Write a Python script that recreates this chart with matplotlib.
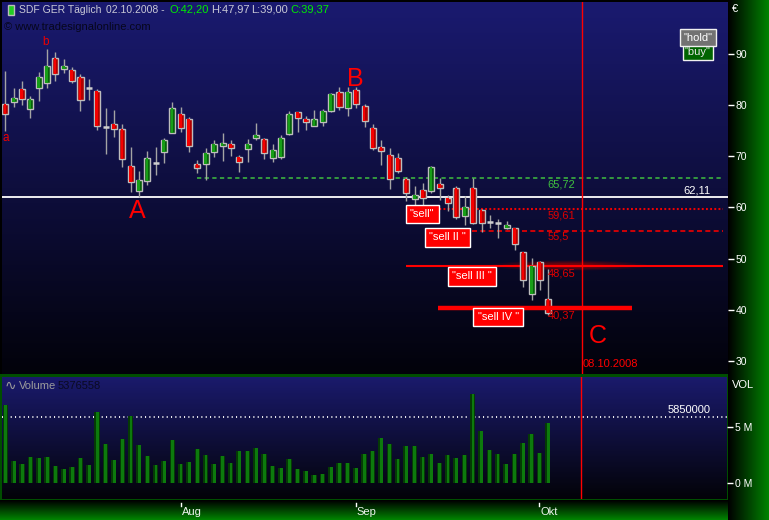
import numpy as np
import pandas as pd
import matplotlib
matplotlib.use("Agg")
import matplotlib.pyplot as plt
from matplotlib.patches import Rectangle, Ellipse
from matplotlib.transforms import blended_transform_factory

plt.rcParams['font.family'] = ['Liberation Sans', 'DejaVu Sans']

# ---- daily data: SDF (K+S) Xetra, 03.07.2008 - 02.10.2008 ----
dates = pd.bdate_range("2008-07-03", "2008-10-02")

opens = [80.20, 80.56, 83.10, 79.20, 83.30, 84.27, 89.16, 87.00, 86.80, 85.45,
         83.40, 82.70, 75.80, 76.26, 75.28, 68.11, 63.29, 65.24, 68.70, 70.91,
         74.62, 78.22, 77.24, 68.44, 68.44, 70.91, 72.08, 72.35, 69.80, 71.50,
         73.53, 73.33, 69.62, 69.93, 74.31, 78.61, 77.24, 75.99, 76.65, 78.92,
         82.50, 79.50, 82.96, 79.84, 75.48, 71.77, 70.26, 69.62, 65.51, 61.60,
         63.42, 63.29, 64.60, 61.80, 63.75, 58.40, 63.75, 59.51, 57.23, 56.92,
         55.94, 55.94, 51.25, 43.04, 49.29, 42.20]
highs = [86.70, 83.30, 84.70, 81.70, 86.50, 90.90, 90.30, 89.00, 87.50, 86.10,
         85.06, 83.10, 79.50, 79.06, 76.26, 71.83, 67.14, 71.04, 71.83, 73.64,
         80.62, 79.64, 77.60, 69.28, 71.57, 73.20, 74.50, 73.20, 70.26, 73.33,
         76.46, 73.64, 72.35, 74.17, 78.86, 78.70, 77.88, 79.06, 79.20, 82.44,
         83.50, 83.60, 83.60, 80.23, 76.32, 73.20, 71.57, 70.60, 66.02, 64.20,
         64.85, 68.11, 65.70, 62.44, 64.20, 62.25, 65.70, 59.70, 58.54, 57.70,
         57.36, 56.05, 51.36, 50.07, 49.55, 47.97]
lows = [75.00, 79.70, 80.00, 77.55, 80.90, 83.40, 84.70, 86.20, 84.30, 78.90,
        81.00, 75.15, 70.50, 73.84, 67.86, 63.10, 62.10, 64.40, 66.35, 68.76,
        74.50, 74.82, 70.91, 66.69, 65.38, 69.93, 69.15, 70.13, 67.00, 68.95,
        73.20, 69.42, 68.95, 69.48, 74.20, 74.82, 75.15, 75.90, 75.93, 78.60,
        79.06, 77.94, 79.50, 75.79, 71.24, 68.31, 63.56, 66.69, 61.33, 59.50,
        59.85, 62.78, 61.47, 59.38, 57.70, 56.58, 56.78, 55.27, 55.94, 53.98,
        55.74, 51.70, 44.40, 41.93, 43.90, 39.00]
closes = [78.20, 81.34, 81.15, 81.15, 85.45, 87.60, 86.03, 87.60, 84.66, 80.95,
          83.40, 76.00, 75.80, 75.28, 69.42, 65.04, 65.30, 69.62, 68.70, 73.13,
          79.39, 75.48, 72.08, 67.66, 70.71, 72.35, 72.55, 71.57, 68.84, 72.35,
          74.17, 70.60, 71.24, 73.53, 78.22, 77.43, 76.65, 77.24, 78.86, 82.12,
          79.70, 82.50, 80.17, 76.97, 71.69, 71.10, 65.51, 67.20, 62.78, 62.44,
          61.80, 67.98, 63.75, 60.82, 58.20, 60.04, 56.92, 56.92, 57.23, 56.92,
          56.58, 52.81, 45.83, 48.57, 45.83, 39.37]
# volume in millions of shares
volumes = [6.95, 1.94, 1.67, 2.30, 2.21, 2.30, 1.49, 1.22, 1.40, 2.21,
           1.58, 6.32, 3.46, 2.03, 3.91, 5.96, 3.37, 2.39, 1.58, 1.94,
           3.82, 1.67, 1.85, 3.01, 2.47, 1.67, 2.39, 1.76, 2.83, 2.83,
           3.10, 2.56, 1.49, 1.31, 2.12, 1.22, 1.04, 0.69, 0.78, 1.40,
           1.76, 1.76, 1.31, 2.56, 2.83, 4.00, 3.46, 2.12, 3.28, 3.28,
           2.30, 2.56, 1.76, 2.47, 2.21, 2.47, 7.93, 4.62, 2.92, 2.56,
           1.67, 2.56, 3.55, 4.35, 2.65, 5.376558]

month_names = ["Aug", "Sep", "Okt"]
month_starts = ["2008-08-01", "2008-09-01", "2008-10-01"]

price_ticks = [30, 40, 50, 60, 70, 80, 90]
volume_ticks = [0, 5]
volume_tick_labels = ["0 M", "5 M"]

support_level = 62.11
resistance_level = 65.72
sell_levels = [59.61, 55.5, 48.65, 40.37]
sell_labels = ['"sell"', '"sell II "', '"sell III "', '"sell IV "']
volume_mark = 5850000
target_date = "2008-10-08"

# ---- geometry ----
W, H = 769, 520
n = len(dates)
x = np.arange(n)
opens, highs, lows, closes = map(np.asarray, (opens, highs, lows, closes))
volumes = np.asarray(volumes)

x_left, x_right = -0.395, 86.5
target_idx = n - 1 + len(pd.bdate_range(dates[-1], target_date)) - 1
month_idx = [int(np.searchsorted(dates, pd.Timestamp(d))) for d in month_starts]

fig = plt.figure(figsize=(W / 100, H / 100), dpi=100)
fig.patch.set_facecolor("black")


def fx(px):
    return px / W


def fy(py):
    return 1 - py / H


def de(v):
    return f"{v:.2f}".replace(".", ",")


# ---- background: panel gradients, frame and axis strips ----
bg = np.zeros((H, W, 3))


def vgrad(n_rows, top, bottom):
    t = np.linspace(0, 1, n_rows)[:, None, None]
    return np.array(top)[None, None, :] * (1 - t) + np.array(bottom)[None, None, :] * t


bg[2:374, 2:728] = vgrad(372, (26, 26, 112), (2, 2, 10))
bg[374:500, 0:728] = (0, 78, 0)
bg[377:499, 2:727] = vgrad(122, (26, 26, 108), (3, 3, 8))
t_r = np.linspace(0, 1, W - 728)
bg[:, 728:, 0] = 0
bg[:, 728:, 2] = 0
bg[:, 728:, 1] = 130 * t_r[None, :]
t_b = np.linspace(0, 1, H - 500)
bg[500:, :728] = 0
bg[500:, :728, 1] = 130 * t_b[:, None]
bg_ax = fig.add_axes([0, 0, 1, 1])
bg_ax.imshow(np.clip(bg / 255, 0, 1), extent=[0, W, H, 0], aspect="auto",
             interpolation="nearest")
bg_ax.set_axis_off()
bg_ax.set_zorder(-5)

# ---- price panel ----
ax = fig.add_axes([fx(2), fy(374), (728 - 2) / W, (374 - 2) / H])
ax.set_facecolor("none")
ax.set_xlim(x_left, x_right)
ax.set_ylim(27.46, 100.16)
for s in ax.spines.values():
    s.set_visible(False)

is_doji = np.abs(closes - opens) < 0.01
is_up = closes > opens
body_w = 0.72

ax.vlines(x, lows, highs, color="#a4a4a4", lw=1.0, zorder=3)
bm = ~is_doji
base_col = np.where(is_up, "#07620a", "#b00000")
inner_col = np.where(is_up, "#179e17", "#f40000")
bottoms = np.minimum(opens, closes)
heights = np.abs(closes - opens)
ax.bar(x[bm], heights[bm], width=body_w, bottom=bottoms[bm], color=base_col[bm],
       edgecolor="#bdbdbd", linewidth=1.0, zorder=4)
ax.bar(x[bm] - 0.05, heights[bm], width=0.32, bottom=bottoms[bm],
       color=inner_col[bm], linewidth=0, zorder=5)
ax.hlines(opens[is_doji], x[is_doji] - body_w / 2, x[is_doji] + body_w / 2,
          color="#cfcfcf", lw=1.8, zorder=4)

# support / resistance levels
ax.axhline(support_level, color="white", lw=1.3, zorder=2)
ax.hlines(resistance_level, 22.9, 85.9, colors="#3fbf3f",
          linestyles=(0, (2.8, 2.2)), lw=1.1, zorder=2)
ax.hlines(sell_levels[0], 48.0, 85.9, colors="#f00000",
          linestyles=(0, (0.9, 1.1)), lw=1.5, zorder=2)
ax.hlines(sell_levels[1], 55.9, 85.9, colors="#f00000",
          linestyles=(0, (3, 2)), lw=1.2, zorder=2)
for k, a in zip(range(6), [0.10, 0.12, 0.14, 0.16, 0.18, 0.2]):
    w = 18.8 * (1 - k * 0.13)
    h = 2.0 * (1 - k * 0.12)
    ax.add_patch(Ellipse((67.5, sell_levels[2]), w, h, facecolor="#b00000",
                         edgecolor="none", alpha=a, zorder=2))
ax.hlines(sell_levels[2], 48.0, 85.9, colors="#ff0000", lw=1.5, zorder=3)
ax.hlines(sell_levels[3], 51.8, 75.0, colors="#ff0000", lw=3.2, zorder=6)

# level values
level_text = [(resistance_level, "#3fbf3f", -6),
              (sell_levels[0], "#e00000", -6),
              (sell_levels[1], "#e00000", -6),
              (sell_levels[2], "#e00000", -7.5),
              (sell_levels[3], "#e00000", -7.5)]
for lv, col, off in level_text:
    txt = f"{lv:g}".replace(".", ",")
    ax.annotate(txt, xy=(64.9, lv), xytext=(0, off), textcoords="offset pixels",
                ha="left", va="center", color=col, fontsize=8, zorder=7)
ax.annotate(de(support_level), xy=(84.35, support_level), xytext=(0, 6.5),
            textcoords="offset pixels", ha="right", va="center",
            color="white", fontsize=8, zorder=7)

# signal boxes
box_pos = [(49.9, 58.7), (52.9, 54.15), (55.9, 46.53), (59.0, 38.6)]
for (bx, by), lab in zip(box_pos, sell_labels):
    ax.text(bx, by, lab, ha="center", va="center", color="white", fontsize=8,
            zorder=8,
            bbox=dict(boxstyle="square,pad=0.38", fc="#ff0000", ec="white", lw=1.0))
ax.text(82.9, 90.35, '"buy"', ha="center", va="center", color="#e8e8e8",
        fontsize=8, zorder=8,
        bbox=dict(boxstyle="square,pad=0.22", fc="#006400", ec="#f0f0f0", lw=1.0))
ax.text(82.9, 93.2, '"hold"', ha="center", va="center", color="white",
        fontsize=8, zorder=9,
        bbox=dict(boxstyle="square,pad=0.3", fc="#727272", ec="#f0f0f0", lw=1.0))

# wave labels
ax.text(0.0, 73.6, "a", color="#ee0000", fontsize=8.5, ha="center", va="center")
ax.text(4.87, 92.35, "b", color="#ee0000", fontsize=8.5, ha="center", va="center")
ax.text(15.8, 59.3, "A", color="#ff0000", fontsize=18, ha="center", va="center")
ax.text(41.9, 85.15, "B", color="#ff0000", fontsize=18, ha="center", va="center")
ax.text(70.95, 34.9, "C", color="#ff0000", fontsize=18, ha="center", va="center")
ax.text(72.4, 29.5, pd.Timestamp(target_date).strftime("%d.%m.%Y"),
        color="#ff0000", fontsize=8, ha="center", va="center")
ax.axvline(target_idx, color="#ff0000", lw=1.0, zorder=2)

ax.set_xticks([])
ax.yaxis.tick_right()
ax.set_yticks(price_ticks)
ax.set_yticklabels([str(v) for v in price_ticks])
ax.tick_params(axis="y", colors="white", labelcolor="white", length=4, width=1,
               pad=1.5, labelsize=7.5, direction="out")
fig.text(fx(731.5), fy(9), "\u20ac", color="white", fontsize=8, ha="left",
         va="center")

# ---- volume panel ----
ax2 = fig.add_axes([fx(2), fy(499), (727 - 2) / W, (499 - 377) / H])
ax2.set_facecolor("none")
ax2.set_xlim(x_left, x_right)
ax2.set_ylim(-1.458, 9.454)
for s in ax2.spines.values():
    s.set_visible(False)
ax2.bar(x, volumes, width=0.62, color="#053a05", linewidth=0, zorder=3)
ax2.bar(x + 0.06, volumes, width=0.34, color="#0d7a0d", linewidth=0, zorder=4)
ax2.axhline(volume_mark / 1e6, color="white", lw=1.3,
            linestyle=(0, (0.6, 1.8)), zorder=2)
ax2.annotate(f"{volume_mark}", xy=(84.55, volume_mark / 1e6), xytext=(0, 7),
             textcoords="offset pixels", ha="right", va="center", color="white",
             fontsize=8)
ax2.axvline(target_idx, color="#ff0000", lw=1.0, zorder=2)
ax2.set_xticks([])
ax2.yaxis.tick_right()
ax2.set_yticks(volume_ticks)
ax2.set_yticklabels(volume_tick_labels)
ax2.tick_params(axis="y", colors="white", labelcolor="white", length=4, width=1,
                pad=1.5, labelsize=7.5, direction="out")
fig.text(fx(732), fy(385.5), "VOL", color="white", fontsize=8, ha="left",
         va="center")

# month ticks below the volume panel
tr = blended_transform_factory(ax2.transData, ax2.transAxes)
for mi, name in zip(month_idx, month_names):
    ax2.plot([mi, mi], [-0.030, -0.057], color="white", lw=1, transform=tr,
             clip_on=False)
    ax2.text(mi + 0.15, -0.107, name, transform=tr, ha="left", va="center",
             color="#eef4ee", fontsize=8, clip_on=False)

ax2.text(0.004, 0.925, "\u223f", transform=ax2.transAxes, color="#9a9a9a",
         fontsize=10, ha="left", va="center", family=["DejaVu Sans"])
fig.text(fx(19), fy(386), "Volume", color="#9c9c9c", fontsize=8, ha="left",
         va="center")
fig.text(fx(58), fy(386), f"{volumes[-1] * 1e6:.0f}", color="#0a0a22",
         fontsize=8, ha="left", va="center")

# ---- header ----
fig.patches.append(Rectangle((fx(7.5), fy(14.5)), 6 / W, 9 / H, transform=fig.transFigure,
                             facecolor="#22cc22", edgecolor="#bbbbbb", lw=1.0))
head_grey = "#c9c9d6"
head_green = "#00ee00"
fig.text(fx(18.7), fy(10), "SDF GER T\u00e4glich", color=head_grey, fontsize=7.5,
         ha="left", va="center")
fig.text(fx(106), fy(10), dates[-1].strftime("%d.%m.%Y") + " -", color=head_grey,
         fontsize=7.5, ha="left", va="center")
fig.text(fx(170), fy(10), "O:" + de(opens[-1]), color=head_green,
         fontsize=8, ha="left", va="center")
fig.text(fx(211), fy(10), "H:" + de(highs[-1]), color=head_grey,
         fontsize=8, ha="left", va="center")
fig.text(fx(250.7), fy(10), "L:" + de(lows[-1]), color=head_grey,
         fontsize=8, ha="left", va="center")
fig.text(fx(290), fy(10), "C:" + de(closes[-1]), color=head_green,
         fontsize=8, ha="left", va="center")
fig.text(fx(4), fy(27), "\u00a9 www.tradesignalonline.com", color="#06061c",
         fontsize=8, ha="left", va="center")

fig.savefig("out.png", dpi=100, facecolor=fig.get_facecolor())
